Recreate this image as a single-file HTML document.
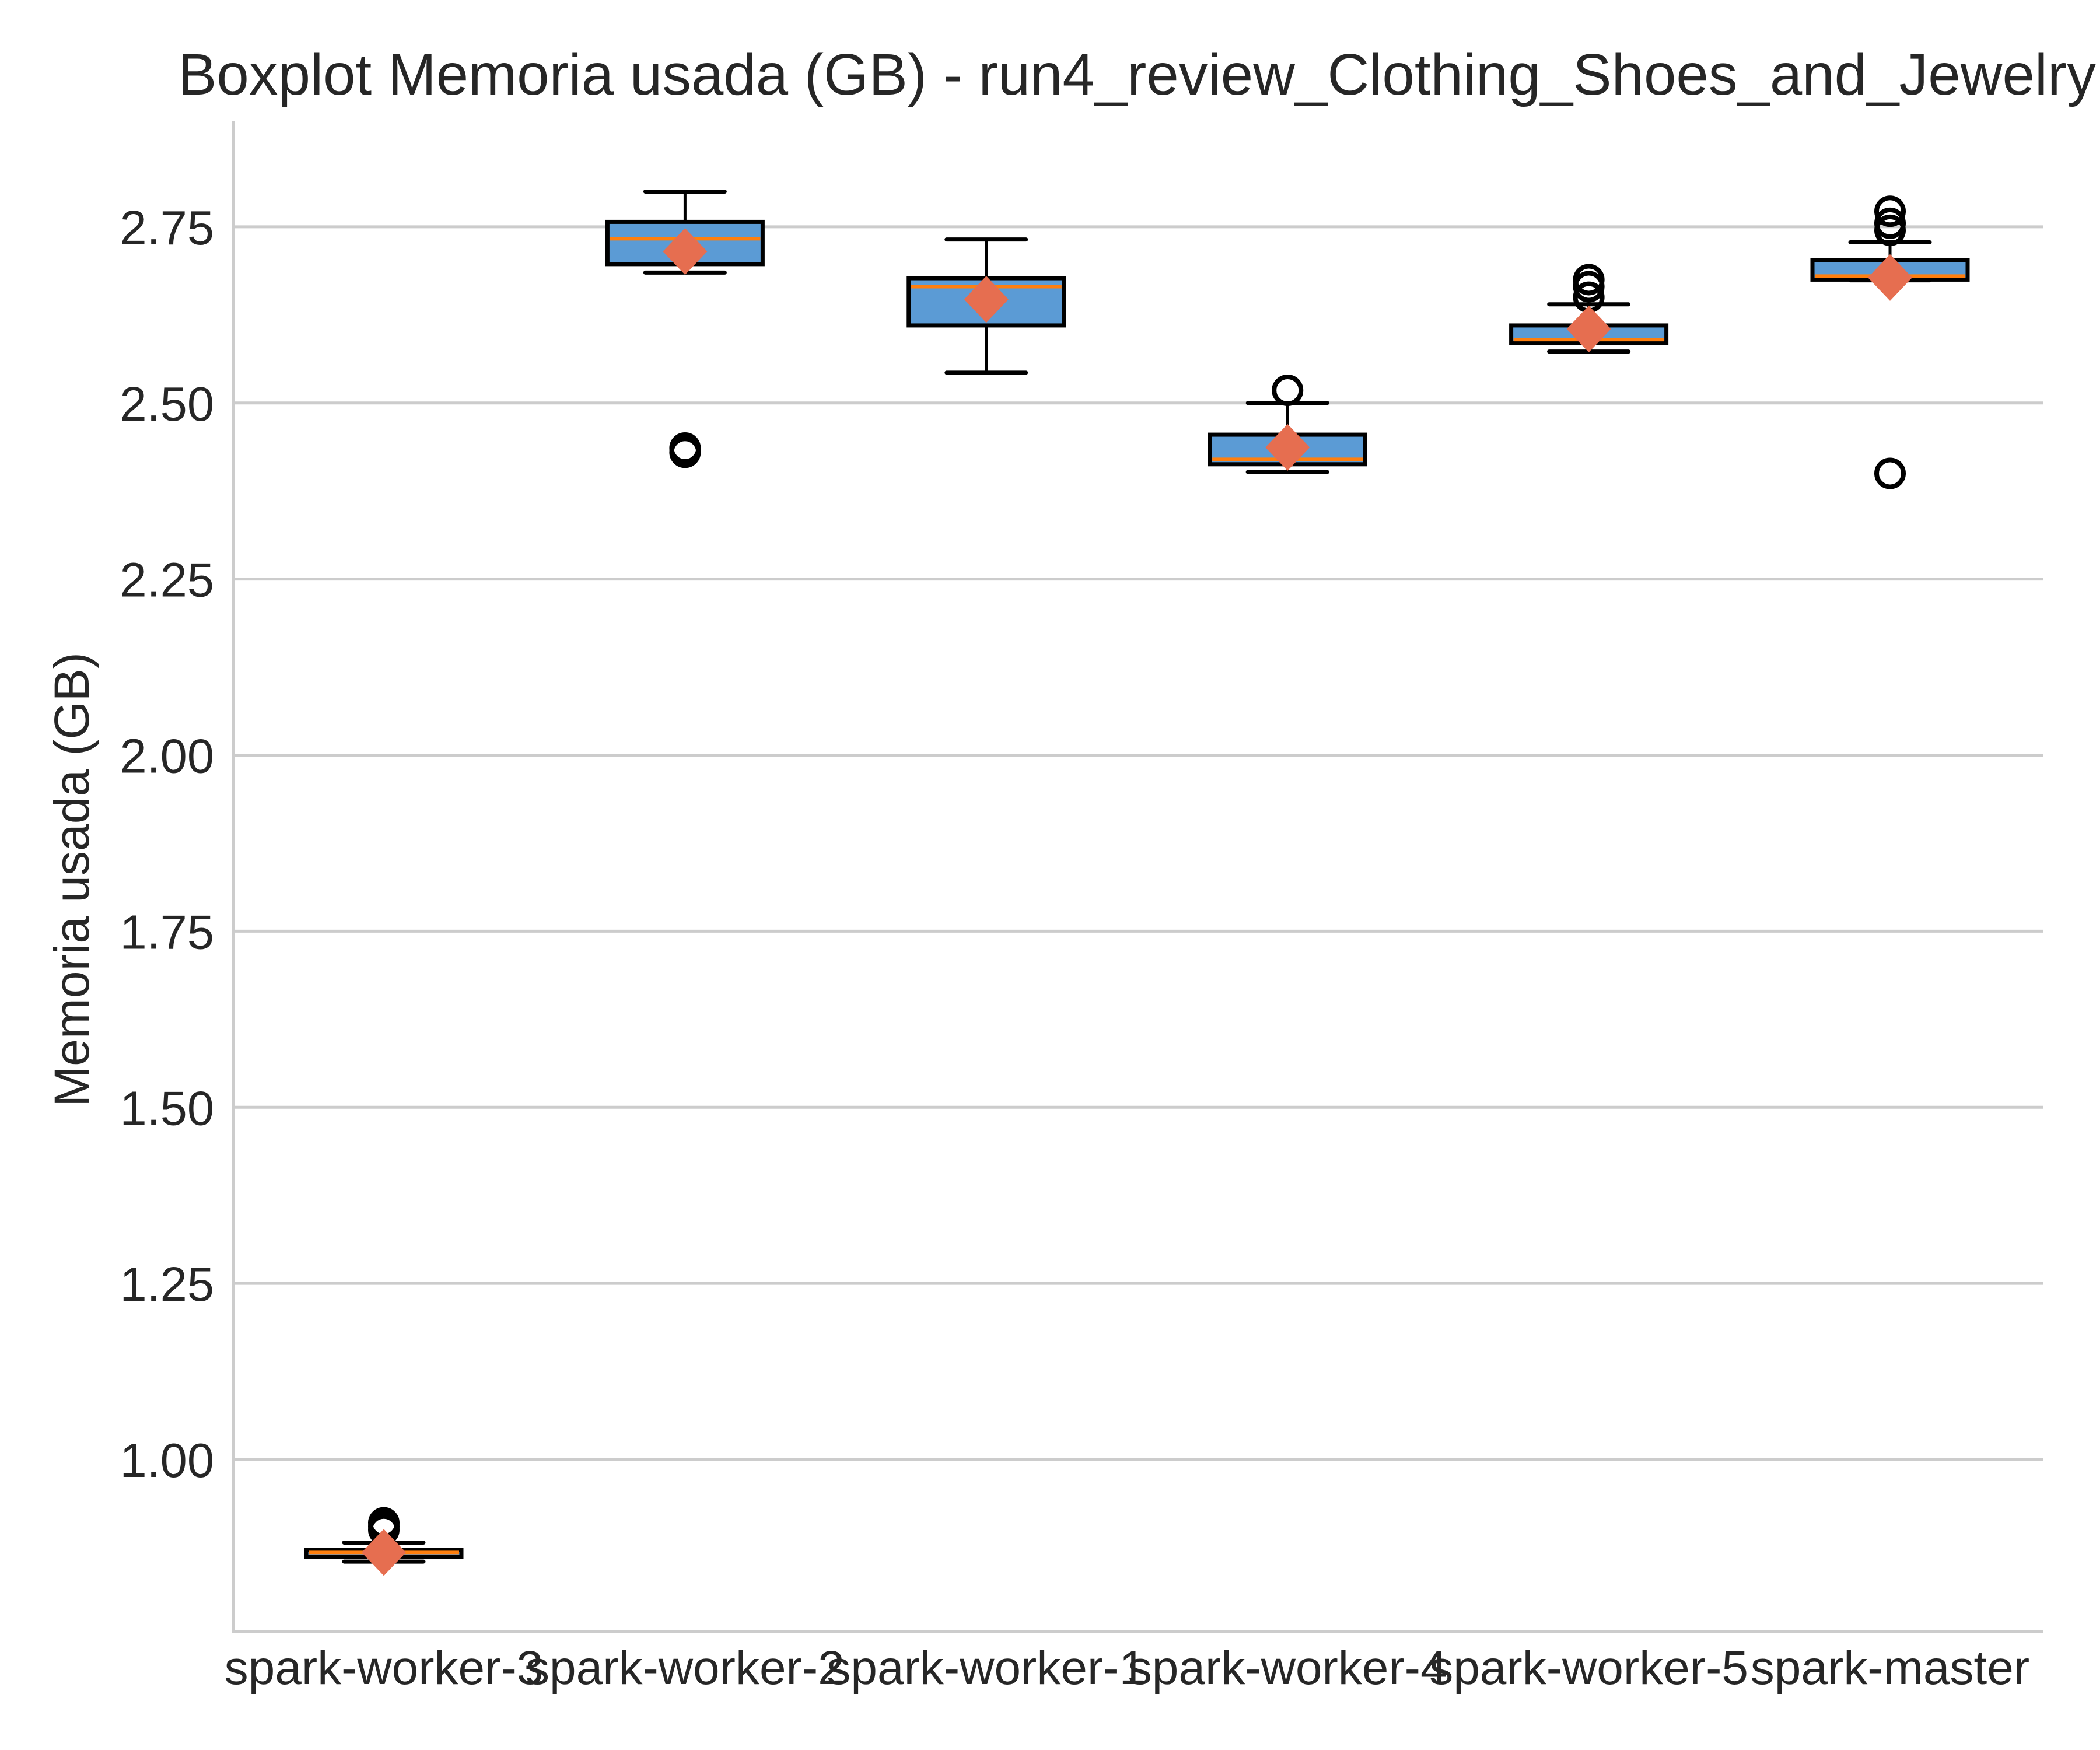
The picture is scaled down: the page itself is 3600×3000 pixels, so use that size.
<!DOCTYPE html>
<html><head><meta charset="utf-8"><style>
html,body{margin:0;padding:0;background:#fff;}
svg{display:block;font-family:"Liberation Sans",Arial,sans-serif;}
</style></head><body>
<svg id="chart" width="3600" height="3000" viewBox="0 0 3600 3000" xmlns="http://www.w3.org/2000/svg">
<rect width="3600" height="3000" fill="#fff"/>
<text x="305" y="162" font-size="100" fill="#262626" textLength="3288" lengthAdjust="spacingAndGlyphs">Boxplot Memoria usada (GB) - run4_review_Clothing_Shoes_and_Jewelry</text>
<text transform="translate(152,1508) rotate(-90)" text-anchor="middle" font-size="84" fill="#262626">Memoria usada (GB)</text>
<g id="grid"></g><g id="marks"></g><g id="ticks"></g>
<line x1="400" y1="208" x2="400" y2="2800" stroke="#cccccc" stroke-width="6"/>
<line x1="397" y1="2797" x2="3502" y2="2797" stroke="#cccccc" stroke-width="6"/>
</svg>
<script>
const categories=["spark-worker-3","spark-worker-2","spark-worker-1","spark-worker-4","spark-worker-5","spark-master"];
const whiskerLow=[0.855,2.685,2.543,2.402,2.573,2.674];
const q1=[0.862,2.697,2.610,2.413,2.585,2.675];
const median=[0.868,2.733,2.665,2.420,2.590,2.680];
const q3=[0.872,2.757,2.677,2.455,2.610,2.703];
const whiskerHigh=[0.882,2.800,2.732,2.500,2.640,2.728];
const means=[0.868,2.715,2.647,2.437,2.605,2.678];
const outliers=[[0.900,0.905,0.910],[2.430,2.436],[],[2.518],[2.650,2.665,2.675],[2.400,2.745,2.755,2.772]];
const yTicks=[1.00,1.25,1.50,1.75,2.00,2.25,2.50,2.75];
const yTickLabels=["1.00","1.25","1.50","1.75","2.00","2.25","2.50","2.75"];

const NS="http://www.w3.org/2000/svg";
function y(v){return 2502-(v-1)*1207.5;}
function x(i){return 658+i*516.4;}
function mk(tag,attrs,parent){const e=document.createElementNS(NS,tag);for(const k in attrs)e.setAttribute(k,attrs[k]);parent.appendChild(e);return e;}
const grid=document.getElementById('grid'),marks=document.getElementById('marks'),ticks=document.getElementById('ticks');
yTicks.forEach((t,i)=>{
  const g=mk('line',{x1:400,x2:3502,y1:y(t),y2:y(t),stroke:'#cccccc','stroke-width':5},grid);
  
  
  const tl=mk('text',{x:367,y:y(t)+30,'text-anchor':'end','font-size':83,fill:'#262626'},ticks);
  tl.textContent=yTickLabels[i];
  
  
});
const bw=266,cw=136;
categories.forEach((c,i)=>{
  const cx=x(i);
  const g=mk('g',{},marks);
  
  
  mk('line',{x1:cx,x2:cx,y1:y(q3[i]),y2:y(whiskerHigh[i]),stroke:'#000','stroke-width':5},g);
  mk('line',{x1:cx,x2:cx,y1:y(q1[i]),y2:y(whiskerLow[i]),stroke:'#000','stroke-width':5},g);
  mk('line',{x1:cx-cw/2,x2:cx+cw/2,y1:y(whiskerHigh[i]),y2:y(whiskerHigh[i]),stroke:'#000','stroke-width':7,'stroke-linecap':'round'},g);
  mk('line',{x1:cx-cw/2,x2:cx+cw/2,y1:y(whiskerLow[i]),y2:y(whiskerLow[i]),stroke:'#000','stroke-width':7,'stroke-linecap':'round'},g);
  const top=y(q3[i]),bot=y(q1[i]);
  mk('rect',{x:cx-bw/2,y:top,width:bw,height:Math.max(bot-top,1),fill:'#5b9bd5',stroke:'#000','stroke-width':7},g);
  const m=mk('line',{x1:cx-bw/2+4,x2:cx+bw/2-4,y1:y(median[i]),y2:y(median[i]),stroke:'#ff7f0e','stroke-width':6},g);
  
  
  outliers[i].forEach(v=>{
    const o=mk('circle',{cx:cx,cy:y(v),r:23,fill:'none',stroke:'#000','stroke-width':8},g);
    
    
  });
  const my=y(means[i]);
  const d=mk('polygon',{points:`${cx},${my-40} ${cx+38},${my} ${cx},${my+40} ${cx-38},${my}`,fill:'#e66e50'},g);
  
  
  const tl=mk('text',{x:cx,y:2887,'text-anchor':'middle','font-size':82,fill:'#262626'},ticks);
  tl.textContent=c;
  
  
});
</script>
</body></html>
